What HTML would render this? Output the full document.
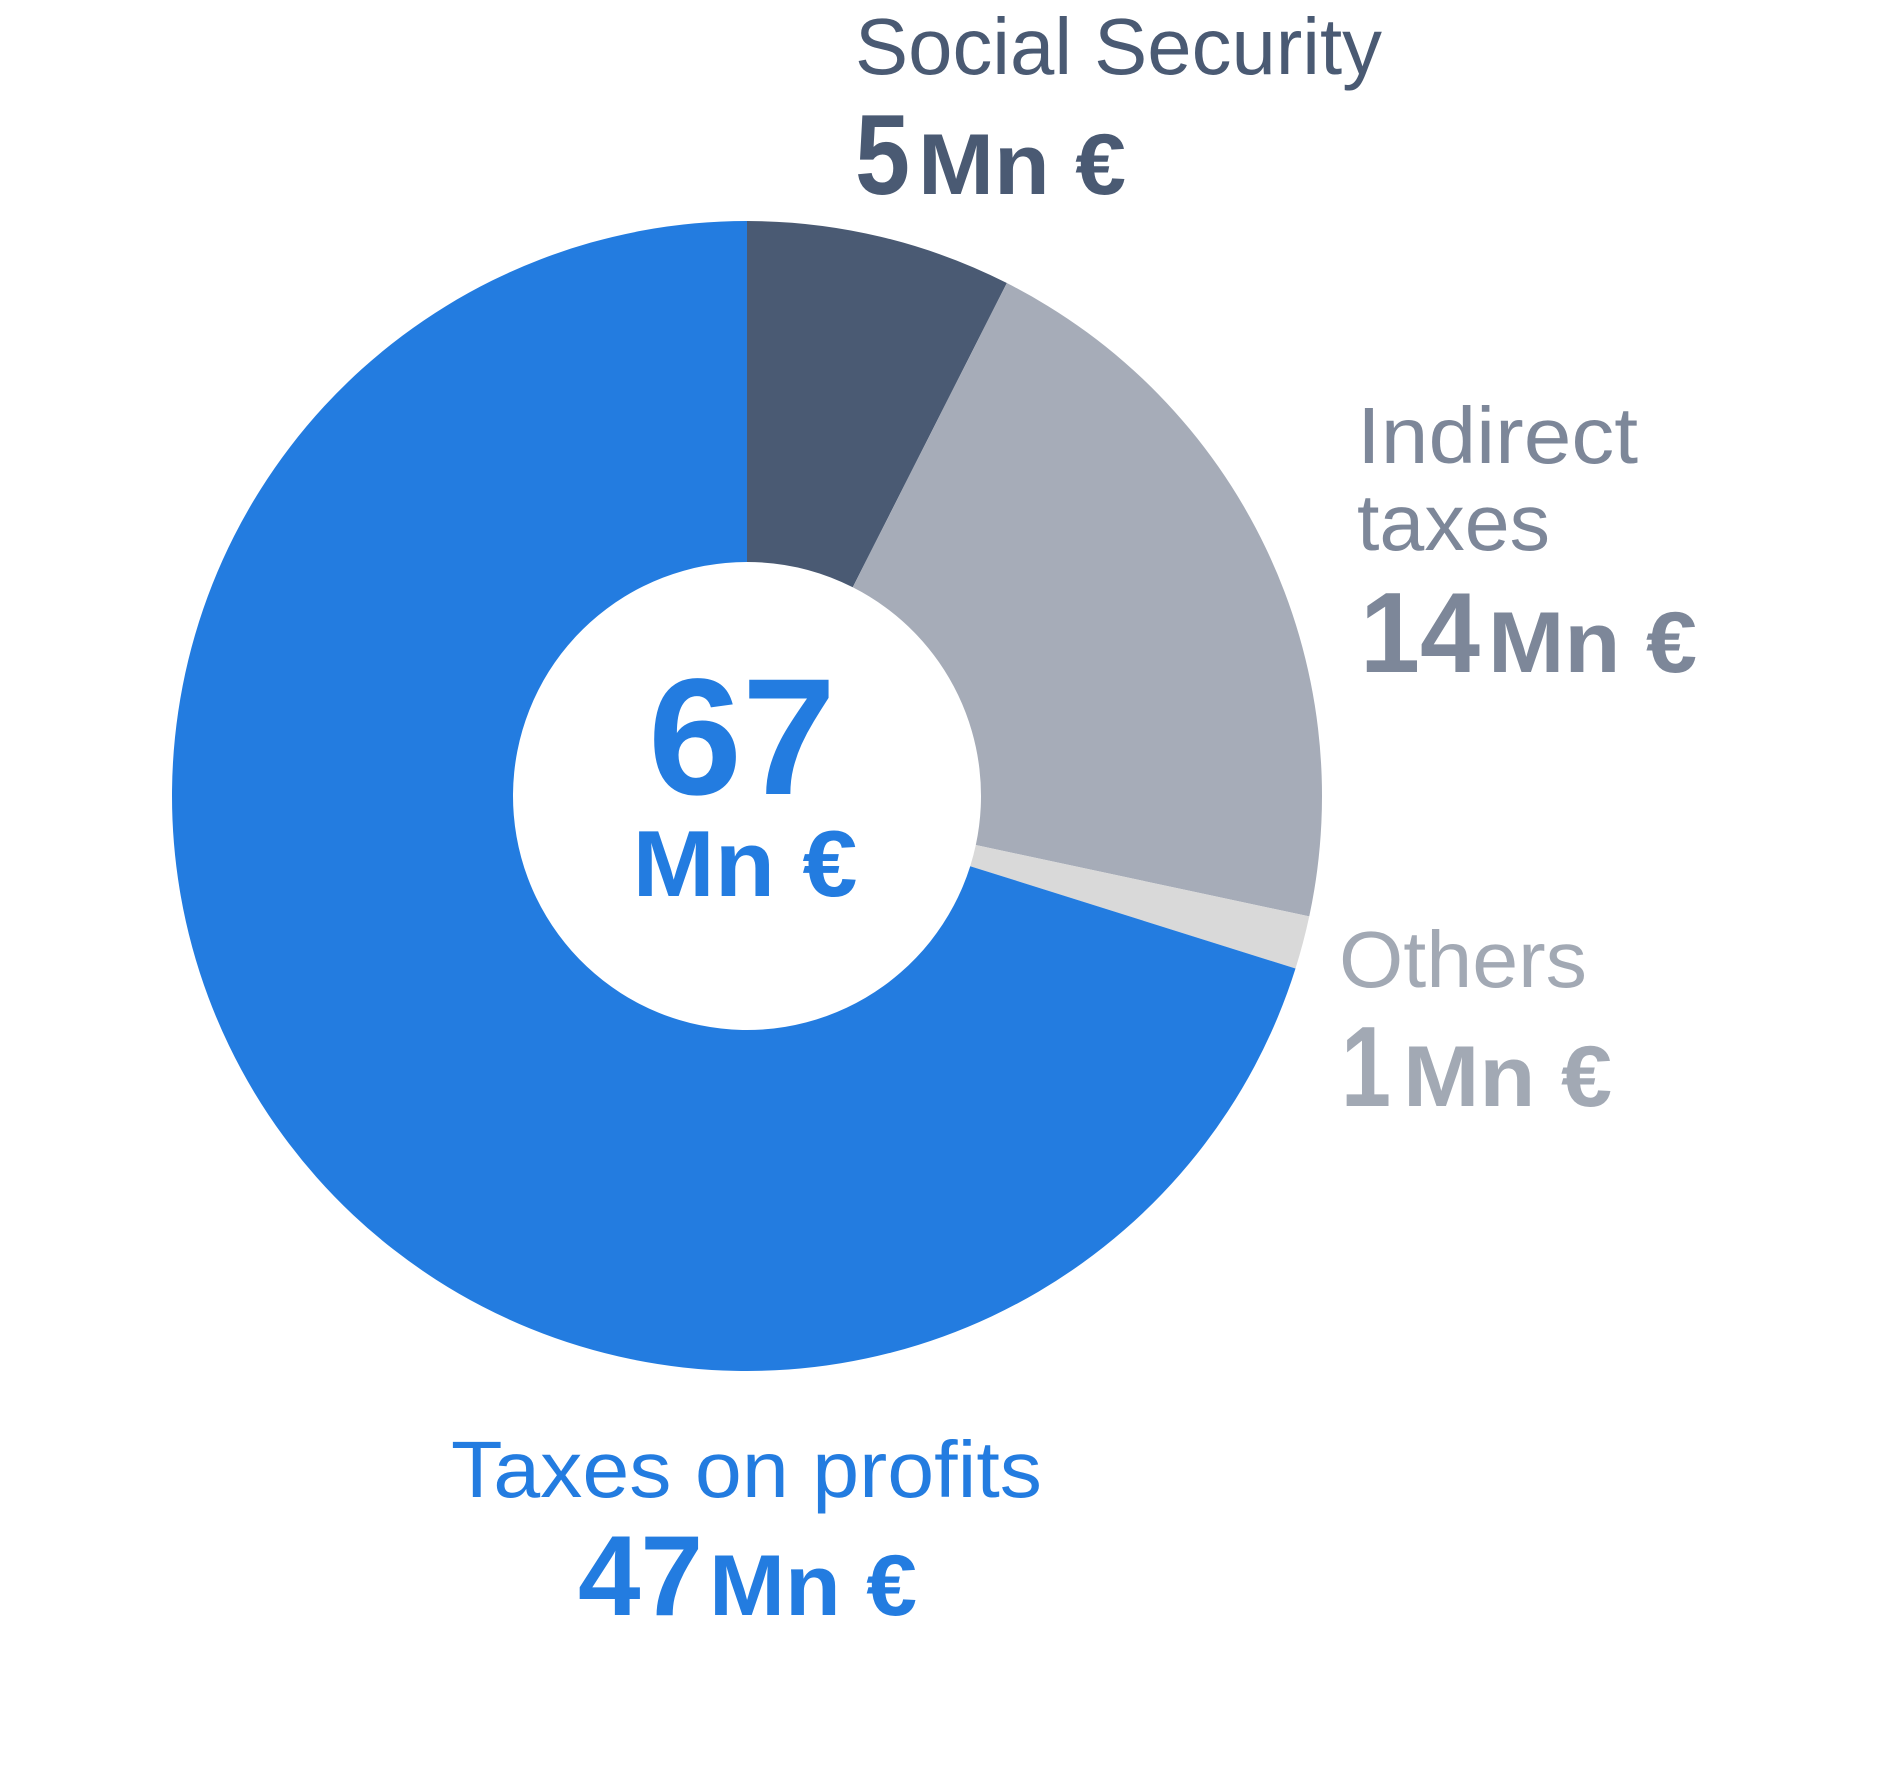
<!DOCTYPE html>
<html>
<head>
<meta charset="utf-8">
<style>
  html, body { margin: 0; padding: 0; background: #ffffff; }
  svg { display: block; }
  text { font-family: "Liberation Sans", "DejaVu Sans", sans-serif; }
</style>
</head>
<body>
<svg id="chart" width="1890" height="1772" viewBox="0 0 1890 1772" xmlns="http://www.w3.org/2000/svg">
  <g id="slices"></g>
  <g>
    <text id="total-number" x="742" y="794" text-anchor="middle" font-size="166" font-weight="bold" fill="#237ce0" textLength="188" lengthAdjust="spacingAndGlyphs"></text>
    <text x="745" y="896" text-anchor="middle" font-size="94" font-weight="bold" fill="#237ce0" textLength="225" lengthAdjust="spacingAndGlyphs">Mn €</text>
  </g>
  <g>
    <text x="855" y="74" font-size="80" fill="#4a5a73" textLength="527" lengthAdjust="spacingAndGlyphs">Social Security</text>
    <text x="855" y="194" font-weight="bold" fill="#4a5a73"><tspan id="v0" font-size="114" textLength="55" lengthAdjust="spacingAndGlyphs"></tspan><tspan font-size="86" dx="8" textLength="208" lengthAdjust="spacingAndGlyphs">Mn €</tspan></text>
  </g>
  <g>
    <text x="1357" y="463" font-size="80" fill="#7d8799" textLength="281" lengthAdjust="spacingAndGlyphs">Indirect</text>
    <text x="1357" y="550" font-size="80" fill="#7d8799" textLength="193" lengthAdjust="spacingAndGlyphs">taxes</text>
    <text x="1360" y="672" font-weight="bold" fill="#7d8799"><tspan id="v1" font-size="114" textLength="120" lengthAdjust="spacingAndGlyphs"></tspan><tspan font-size="86" dx="8" textLength="209" lengthAdjust="spacingAndGlyphs">Mn €</tspan></text>
  </g>
  <g>
    <text x="1339" y="987" font-size="80" fill="#a2a9b4" textLength="248" lengthAdjust="spacingAndGlyphs">Others</text>
    <text x="1341" y="1106" font-weight="bold" fill="#a2a9b4"><tspan id="v2" font-size="114" textLength="50" lengthAdjust="spacingAndGlyphs"></tspan><tspan font-size="86" dx="12" textLength="209" lengthAdjust="spacingAndGlyphs">Mn €</tspan></text>
  </g>
  <g>
    <text x="451" y="1497" font-size="80" fill="#237ce0" textLength="591" lengthAdjust="spacingAndGlyphs">Taxes on profits</text>
    <text x="578" y="1615" font-weight="bold" fill="#237ce0"><tspan id="v3" font-size="114" textLength="125" lengthAdjust="spacingAndGlyphs"></tspan><tspan font-size="86" dx="6" textLength="208" lengthAdjust="spacingAndGlyphs">Mn €</tspan></text>
  </g>
</svg>
<script>
const categories = ["Social Security", "Indirect taxes", "Others", "Taxes on profits"];
const values = [5, 14, 1, 47];
const colors = ["#4a5a73", "#a6acb8", "#d9d9d9", "#237ce0"];

const cx = 747, cy = 796, rOuter = 575, rInner = 234;
const total = values.reduce((a, b) => a + b, 0);
function angleScale(v) { return v / total * Math.PI * 2; }
function pt(r, a) { return [cx + r * Math.sin(a), cy - r * Math.cos(a)]; }

const g = document.getElementById('slices');
let acc = 0;
values.forEach((v, i) => {
  const a0 = angleScale(acc), a1 = angleScale(acc + v);
  acc += v;
  const large = (a1 - a0) > Math.PI ? 1 : 0;
  const p0 = pt(rOuter, a0), p1 = pt(rOuter, a1), p2 = pt(rInner, a1), p3 = pt(rInner, a0);
  const d = `M${p0[0]},${p0[1]} A${rOuter},${rOuter} 0 ${large} 1 ${p1[0]},${p1[1]} L${p2[0]},${p2[1]} A${rInner},${rInner} 0 ${large} 0 ${p3[0]},${p3[1]} Z`;
  const path = document.createElementNS('http://www.w3.org/2000/svg', 'path');
  path.setAttribute('d', d);
  path.setAttribute('fill', colors[i]);
  
  
  g.appendChild(path);
});

values.forEach((v, i) => { document.getElementById('v' + i).textContent = String(v); });
document.getElementById('total-number').textContent = String(total);
</script>
</body>
</html>
